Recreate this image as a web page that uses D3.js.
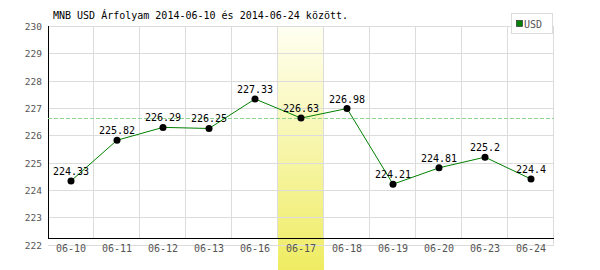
<!DOCTYPE html>
<html lang="hu">
<head>
<meta charset="UTF-8" />
<title>MNB USD árfolyam</title>
<script src="https://cdn.jsdelivr.net/npm/d3@7"></script>
<style>
  body { margin: 0; background: #fff; }
  svg text { font-family: "DejaVu Sans Mono", monospace; }
</style>
</head>
<body>
<div id="wrapper"></div>
<script>
  // chart values
  const days = ["06-10", "06-11", "06-12", "06-13", "06-16", "06-17", "06-18", "06-19", "06-20", "06-23", "06-24"]
  const rates = [224.33, 225.82, 226.29, 226.25, 227.33, 226.63, 226.98, 224.21, 224.81, 225.2, 224.4]
  const yTicks = [222, 223, 224, 225, 226, 227, 228, 229, 230]
  const highlightDay = "06-17"
  const title = "MNB USD Árfolyam 2014-06-10 és 2014-06-24 között."
  const seriesName = "USD"

  const dms = {
    width: 600,
    height: 270,
    left: 48,
    right: 554,
    top: 26,
    axisY: 238,
    bottom: 244.6
  }

  const svg = d3.select('#wrapper').append('svg')
    .attr('width', dms.width)
    .attr('height', dms.height)

  const xScale = d3.scaleBand()
    .domain(days)
    .range([dms.left, dms.right])
  const yScale = d3.scaleLinear()
    .domain([222, 230])
    .range([dms.bottom, dms.top])

  // yellow highlight
  const grad = svg.append('defs').append('linearGradient')
    .attr('id', 'hl').attr('x1', 0).attr('y1', 0).attr('x2', 0).attr('y2', 1)
  grad.append('stop').attr('offset', '0%').attr('stop-color', '#fffff2')
  grad.append('stop').attr('offset', '100%').attr('stop-color', '#efec62')
  svg.append('rect')
    .attr('x', xScale(highlightDay))
    .attr('y', dms.top)
    .attr('width', xScale.bandwidth())
    .attr('height', dms.height - dms.top)
    .attr('fill', 'url(#hl)')

  // horizontal grid
  svg.append('g').selectAll('line')
    .data(yTicks)
    .join('line')
    .attr('x1', dms.left).attr('x2', dms.right)
    .attr('y1', d => Math.round(yScale(d)) + 0.5)
    .attr('y2', d => Math.round(yScale(d)) + 0.5)
    .attr('stroke', '#dcdcdc')

  // vertical grid
  svg.append('g').selectAll('line')
    .data(days.slice(1).concat(['end']))
    .join('line')
    .attr('x1', (d, i) => dms.left + (i + 1) * xScale.bandwidth() - 0.5)
    .attr('x2', (d, i) => dms.left + (i + 1) * xScale.bandwidth() - 0.5)
    .attr('y1', dms.top)
    .attr('y2', (d, i) => i === days.length - 1 ? dms.bottom : dms.axisY)
    .attr('stroke', '#dcdcdc')

  // axes lines
  svg.append('line')
    .attr('x1', dms.left + 0.5).attr('x2', dms.left + 0.5)
    .attr('y1', dms.top).attr('y2', dms.axisY + 1)
    .attr('stroke', '#000')
  svg.append('line')
    .attr('x1', dms.left).attr('x2', dms.right)
    .attr('y1', dms.axisY + 0.5).attr('y2', dms.axisY + 0.5)
    .attr('stroke', '#000')

  // y labels
  svg.append('g').selectAll('text')
    .data(yTicks)
    .join('text')
    .attr('x', 42)
    .attr('y', d => yScale(d) + 4)
    .attr('text-anchor', 'end')
    .attr('font-size', 9.5)
    .attr('fill', '#555')
    .text(d => d)

  // x labels
  svg.append('g').selectAll('text')
    .data(days)
    .join('text')
    .attr('x', d => xScale(d) + xScale.bandwidth() / 2)
    .attr('y', 252)
    .attr('text-anchor', 'middle')
    .attr('font-size', 10)
    .attr('fill', '#555')
    .text(d => d)

  // reference line at highlighted day's value
  const refVal = rates[days.indexOf(highlightDay)]
  svg.append('line')
    .attr('x1', dms.left).attr('x2', dms.right)
    .attr('y1', Math.round(yScale(refVal)) + 0.5)
    .attr('y2', Math.round(yScale(refVal)) + 0.5)
    .attr('stroke', '#8fd48f')
    .attr('stroke-dasharray', '4,2')

  const pts = days.map((d, i) => ({ day: d, value: rates[i] }))
  const line = d3.line()
    .x(d => xScale(d.day) + xScale.bandwidth() / 2)
    .y(d => yScale(d.value))
  svg.append('path')
    .attr('d', line(pts))
    .attr('fill', 'none')
    .attr('stroke', '#008000')
    .attr('stroke-width', 1)

  svg.append('g').selectAll('circle')
    .data(pts)
    .join('circle')
    .attr('cx', d => xScale(d.day) + xScale.bandwidth() / 2)
    .attr('cy', d => yScale(d.value))
    .attr('r', 3.5)
    .attr('fill', '#000')

  svg.append('g').selectAll('text')
    .data(pts)
    .join('text')
    .attr('x', d => xScale(d.day) + xScale.bandwidth() / 2)
    .attr('y', d => yScale(d.value) - 6)
    .attr('text-anchor', 'middle')
    .attr('font-size', 10)
    .attr('fill', '#000')
    .text(d => d.value)

  // title
  svg.append('text')
    .attr('x', 53)
    .attr('y', 19)
    .attr('font-size', 10)
    .attr('fill', '#000')
    .text(title)

  // legend
  svg.append('rect')
    .attr('x', 511.5).attr('y', 13.5)
    .attr('width', 41).attr('height', 20)
    .attr('fill', '#fff')
    .attr('stroke', '#dcdcdc')
  svg.append('rect')
    .attr('x', 516.5).attr('y', 20.5)
    .attr('width', 6).attr('height', 6)
    .attr('fill', '#008000')
    .attr('stroke', '#333')
    .attr('stroke-width', 0.7)
  svg.append('text')
    .attr('x', 524)
    .attr('y', 28)
    .attr('font-size', 10)
    .attr('fill', '#555')
    .text(seriesName)
</script>
</body>
</html>
